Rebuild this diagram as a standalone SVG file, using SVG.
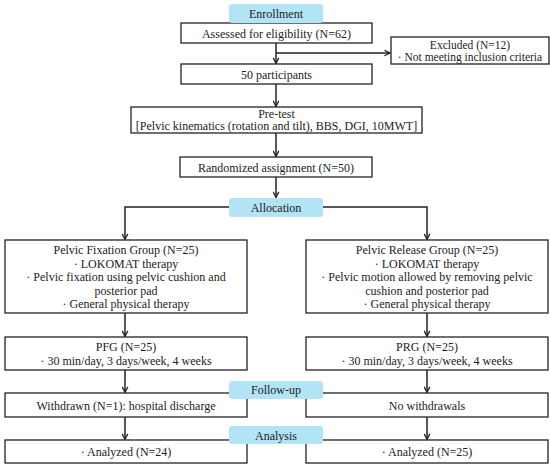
<svg xmlns="http://www.w3.org/2000/svg" width="550" height="467" viewBox="0 0 550 467">
<style>
  .box { fill: #ffffff; stroke: #222222; stroke-width: 1.3; }
  .lab { fill: #b3e4f5; stroke: none; }
  .t { font-family: "Liberation Serif", "DejaVu Serif", serif; font-size: 12px; fill: #222222; text-anchor: middle; }
  .s { font-size: 11.5px; }
  .c { fill: none; stroke: #222222; stroke-width: 1.5; }
</style>
<defs>
  <marker id="arr" viewBox="0 0 10 10" refX="9" refY="5" markerWidth="7" markerHeight="7" markerUnits="userSpaceOnUse" orient="auto">
    <path d="M1,1 L9,5 L1,9" fill="none" stroke="#222222" stroke-width="1.8"/>
  </marker>
</defs>
<rect width="550" height="467" fill="#ffffff"/>

<g id="connectors">
  <line class="c" x1="276" y1="43" x2="276" y2="63.5" marker-end="url(#arr)"/>
  <line class="c" x1="276" y1="53" x2="390" y2="53" marker-end="url(#arr)"/>
  <line class="c" x1="276" y1="84" x2="276" y2="106.5" marker-end="url(#arr)"/>
  <line class="c" x1="276" y1="133" x2="276" y2="156.5" marker-end="url(#arr)"/>
  <line class="c" x1="276" y1="177" x2="276" y2="197.5" marker-end="url(#arr)"/>
  <polyline class="c" points="229,207 125,207 125,239.5" marker-end="url(#arr)"/>
  <polyline class="c" points="323,207 427,207 427,239.5" marker-end="url(#arr)"/>
  <line class="c" x1="125" y1="313" x2="125" y2="336.5" marker-end="url(#arr)"/>
  <line class="c" x1="427" y1="313" x2="427" y2="336.5" marker-end="url(#arr)"/>
  <line class="c" x1="125" y1="370" x2="125" y2="392.5" marker-end="url(#arr)"/>
  <line class="c" x1="427" y1="370" x2="427" y2="392.5" marker-end="url(#arr)"/>
  <line class="c" x1="125" y1="417" x2="125" y2="439.5" marker-end="url(#arr)"/>
  <line class="c" x1="427" y1="417" x2="427" y2="439.5" marker-end="url(#arr)"/>
</g>

<g id="assessed">
  <rect class="box" x="181" y="23" width="191" height="20"/>
  <text class="t" x="276.5" y="37.5">Assessed for eligibility (N=62)</text>
</g>
<g id="enrollment">
  <rect class="lab" x="229" y="4" width="94" height="19" rx="3"/>
  <text class="t" x="276" y="18">Enrollment</text>
</g>
<g id="excluded">
  <rect class="box" x="391" y="37" width="158" height="27"/>
  <text class="t s" x="470" y="48.5">Excluded (N=12)</text>
  <text class="t s" x="470" y="60.5">· Not meeting inclusion criteria</text>
</g>
<g id="participants">
  <rect class="box" x="181" y="64" width="191" height="20"/>
  <text class="t" x="276.5" y="78.5">50 participants</text>
</g>
<g id="pretest">
  <rect class="box" x="131" y="107" width="291" height="26"/>
  <text class="t" x="276.5" y="117.5">Pre-test</text>
  <text class="t" x="276.5" y="130">[Pelvic kinematics (rotation and tilt), BBS, DGI, 10MWT]</text>
</g>
<g id="randomized">
  <rect class="box" x="180" y="157" width="192" height="20"/>
  <text class="t" x="276" y="171.5">Randomized assignment (N=50)</text>
</g>
<g id="allocation">
  <rect class="lab" x="229" y="198" width="94" height="19" rx="3"/>
  <text class="t" x="276" y="212">Allocation</text>
</g>
<g id="pfg-group">
  <rect class="box" x="5" y="240" width="242" height="73"/>
  <text class="t" x="126" y="254">Pelvic Fixation Group (N=25)</text>
  <text class="t" x="126" y="267.5">· LOKOMAT therapy</text>
  <text class="t" x="126" y="281">· Pelvic fixation using pelvic cushion and</text>
  <text class="t" x="126" y="294.5">posterior pad</text>
  <text class="t" x="126" y="308">· General physical therapy</text>
</g>
<g id="prg-group">
  <rect class="box" x="306" y="240" width="242" height="73"/>
  <text class="t" x="427" y="254">Pelvic Release Group (N=25)</text>
  <text class="t" x="427" y="267.5">· LOKOMAT therapy</text>
  <text class="t" x="427" y="281">· Pelvic motion allowed by removing pelvic</text>
  <text class="t" x="427" y="294.5">cushion and posterior pad</text>
  <text class="t" x="427" y="308">· General physical therapy</text>
</g>
<g id="pfg">
  <rect class="box" x="5" y="337" width="242" height="33"/>
  <text class="t" x="126" y="351">PFG (N=25)</text>
  <text class="t" x="126" y="364.5">· 30 min/day, 3 days/week, 4 weeks</text>
</g>
<g id="prg">
  <rect class="box" x="306" y="337" width="242" height="33"/>
  <text class="t" x="427" y="351">PRG (N=25)</text>
  <text class="t" x="427" y="364.5">· 30 min/day, 3 days/week, 4 weeks</text>
</g>
<g id="withdrawn">
  <rect class="box" x="5" y="393" width="242" height="24"/>
  <text class="t" x="126" y="409.5">Withdrawn (N=1): hospital discharge</text>
</g>
<g id="no-withdrawals">
  <rect class="box" x="306" y="393" width="242" height="24"/>
  <text class="t" x="427" y="409.5">No withdrawals</text>
</g>
<g id="followup">
  <rect class="lab" x="229" y="381" width="94" height="18" rx="3"/>
  <text class="t" x="276" y="394">Follow-up</text>
</g>
<g id="analyzed-left">
  <rect class="box" x="5" y="440" width="242" height="23"/>
  <text class="t" x="126" y="456">· Analyzed (N=24)</text>
</g>
<g id="analyzed-right">
  <rect class="box" x="306" y="440" width="242" height="23"/>
  <text class="t" x="427" y="456">· Analyzed (N=25)</text>
</g>
<g id="analysis">
  <rect class="lab" x="229" y="426" width="94" height="18" rx="3"/>
  <text class="t" x="276" y="439.5">Analysis</text>
</g>
</svg>
